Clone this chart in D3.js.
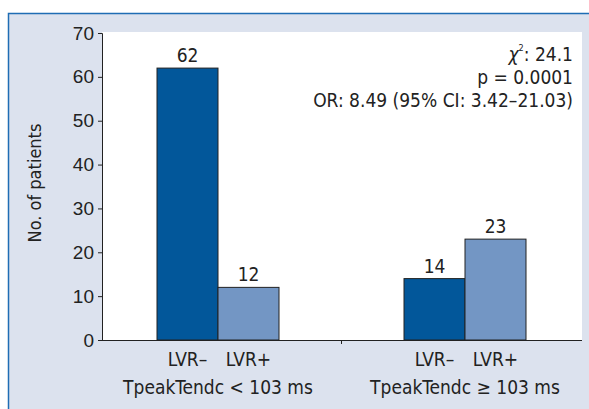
<!DOCTYPE html>
<html>
<head>
<meta charset="utf-8">
<script src="https://cdn.jsdelivr.net/npm/d3@7"></script>
<style>
  body { margin: 0; background: #fff; }
  svg { display: block; font-family: "Liberation Sans Narrow", "DejaVu Sans Condensed", sans-serif; }
</style>
</head>
<body>
<div id="chart"></div>
<script>
const width = 589;
const height = 409;

// data
const groups = ["TpeakTendc < 103 ms", "TpeakTendc \u2265 103 ms"];
const subgroups = ["LVR\u2013", "LVR+"];
const lvrMinus = [62, 14];
const lvrPlus = [12, 23];
const yTicks = [0, 10, 20, 30, 40, 50, 60, 70];
const statsLines = ["p = 0.0001", "OR: 8.49 (95% CI: 3.42\u201321.03)"];

const colors = { "LVR\u2013": "#02579a", "LVR+": "#7396c4" };

const rows = groups.map((g, i) => ({
  group: g,
  values: [
    { key: subgroups[0], value: lvrMinus[i] },
    { key: subgroups[1], value: lvrPlus[i] },
  ],
}));

const plot = { left: 102, right: 582, top: 32, bottom: 340 };

const svg = d3
  .select("#chart")
  .append("svg")
  .attr("width", width)
  .attr("height", height);

// panel frame
svg
  .append("rect")
  .attr("x", 8)
  .attr("y", 13)
  .attr("width", width - 8)
  .attr("height", height - 13)
  .attr("fill", "#dce2ee");
svg
  .append("path")
  .attr("d", `M8.5,${height} V13.5 H${width}`)
  .attr("fill", "none")
  .attr("stroke", "#1f6db4")
  .attr("stroke-width", 1.5);

// white plot area
svg
  .append("rect")
  .attr("x", plot.left)
  .attr("y", plot.top)
  .attr("width", plot.right - plot.left)
  .attr("height", plot.bottom - plot.top)
  .attr("fill", "#fff");

const y = d3.scaleLinear().domain([0, 70]).range([plot.bottom, plot.top + 1]);

const x0 = d3.scaleBand().domain(groups).range([94.5, 588.5]);
const x1 = d3.scaleBand().domain(subgroups).range([0, 122]);

// bars
const g = svg
  .selectAll(".group")
  .data(rows)
  .join("g")
  .attr("class", "group")
  .attr("transform", (d) => `translate(${x0(d.group) + x0.bandwidth() / 2 - 61},0)`);

g.selectAll("rect")
  .data((d) => d.values)
  .join("rect")
  .attr("x", (d) => x1(d.key))
  .attr("y", (d) => y(d.value))
  .attr("width", x1.bandwidth())
  .attr("height", (d) => y(0) - y(d.value))
  .attr("fill", (d) => colors[d.key])
  .attr("stroke", "#222")
  .attr("stroke-width", 1);

g.selectAll(".val")
  .data((d) => d.values)
  .join("text")
  .attr("class", "val")
  .attr("x", (d) => x1(d.key) + x1.bandwidth() / 2)
  .attr("y", (d) => y(d.value) - 6)
  .attr("text-anchor", "middle")
  .attr("font-size", 19)
  .attr("fill", "#222")
  .text((d) => d.value);

g.selectAll(".sub")
  .data((d) => d.values)
  .join("text")
  .attr("class", "sub")
  .attr("x", (d) => x1(d.key) + x1.bandwidth() / 2)
  .attr("y", 366)
  .attr("text-anchor", "middle")
  .attr("font-size", 19)
  .attr("fill", "#222")
  .text((d) => d.key);

g.append("text")
  .attr("x", 61)
  .attr("y", 394)
  .attr("text-anchor", "middle")
  .attr("font-size", 19)
  .attr("fill", "#222")
  .text((d) => d.group);

// y axis
const yAxis = svg
  .append("g")
  .attr("transform", `translate(${plot.left},0)`)
  .call(d3.axisLeft(y).tickValues(yTicks).tickSize(4).tickPadding(4));
yAxis.select(".domain").attr("stroke", "#222");
yAxis.selectAll(".tick line").attr("stroke", "#222");
yAxis
  .selectAll(".tick text")
  .attr("font-size", 19)
  .attr("font-family", null)
  .attr("fill", "#222");

// x axis baseline and separator tick
svg
  .append("line")
  .attr("x1", plot.left)
  .attr("x2", plot.right)
  .attr("y1", plot.bottom + 0.5)
  .attr("y2", plot.bottom + 0.5)
  .attr("stroke", "#222");
svg
  .append("line")
  .attr("x1", x0(groups[1]))
  .attr("x2", x0(groups[1]))
  .attr("y1", plot.bottom)
  .attr("y2", plot.bottom + 4)
  .attr("stroke", "#222");

// y label
svg
  .append("text")
  .attr("transform", `translate(41,${(plot.top + plot.bottom) / 2 - 3}) rotate(-90)`)
  .attr("text-anchor", "middle")
  .attr("font-size", 18)
  .attr("fill", "#222")
  .text("No. of patients");

// stats annotation
const stats = svg
  .append("text")
  .attr("text-anchor", "end")
  .attr("font-size", 19)
  .attr("fill", "#222");
const l1 = stats.append("tspan").attr("x", 573).attr("y", 61);
l1.append("tspan").attr("font-style", "italic").text("\u03c7");
l1.append("tspan").attr("font-size", 9).attr("dy", -10).text("2");
l1.append("tspan").attr("dy", 10).text(": 24.1");
stats
  .selectAll(".line")
  .data(statsLines)
  .join("tspan")
  .attr("class", "line")
  .attr("x", 573)
  .attr("y", (d, i) => 84 + i * 23)
  .text((d) => d);
</script>
</body>
</html>
